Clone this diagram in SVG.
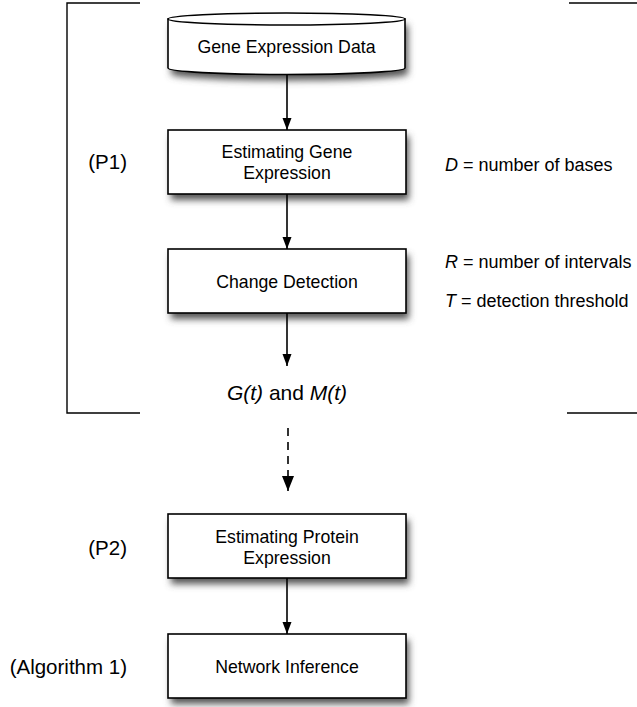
<svg xmlns="http://www.w3.org/2000/svg" width="637" height="707" viewBox="0 0 637 707">
<style>
  text { font-family: "Liberation Sans", Arial, Helvetica, sans-serif; fill: #000; }
  .box { fill: #fff; stroke: #000; stroke-width: 1.6; }
  .shd { fill: #555; stroke: none; filter: url(#blur); }
  .boxtxt { font-size: 17.7px; text-anchor: middle; }
  .side { font-size: 20.5px; text-anchor: end; }
  .param { font-size: 18px; }
  .bracket { fill: none; stroke: #000; stroke-width: 1.4; }
  .conn { fill: none; stroke: #000; stroke-width: 1.6; }
  .it { font-style: italic; }
</style>
<defs>
  <filter id="blur" x="-20%" y="-40%" width="140%" height="180%">
    <feGaussianBlur stdDeviation="3.5"/>
  </filter>
  <marker id="arrow" markerUnits="userSpaceOnUse" markerWidth="12" markerHeight="10" refX="12" refY="5" orient="auto">
    <path d="M0,0.5 L12,5 L0,9.5 z" fill="#000"/>
  </marker>
  <marker id="arrowBig" markerUnits="userSpaceOnUse" markerWidth="15" markerHeight="12" refX="15" refY="6" orient="auto">
    <path d="M0,0 L15,6 L0,12 z" fill="#000"/>
  </marker>
</defs>

<g id="bracket-left">
  <polyline class="bracket" points="140,3 67,3 67,413 140,413"/>
</g>
<g id="bracket-right">
  <line class="bracket" x1="569" y1="3" x2="637" y2="3"/>
  <line class="bracket" x1="567" y1="413" x2="637" y2="413"/>
</g>

<g id="node-data">
  <path class="shd" d="M171,25 L171,74 A118.5,6.5 0 0 0 408,74 L408,25 z"/>
  <path class="box" d="M168,19 L168,68 A118.5,6.5 0 0 0 405,68 L405,19 z"/>
  <ellipse class="box" cx="286.5" cy="19" rx="118.5" ry="6"/>
  <text class="boxtxt" x="286.5" y="53">Gene Expression Data</text>
</g>

<g id="node-estimating-gene">
  <rect class="shd" x="171" y="136" width="238" height="64"/>
  <rect class="box" x="168" y="130" width="238" height="64"/>
  <text class="boxtxt" x="287" y="158">Estimating Gene</text>
  <text class="boxtxt" x="287" y="179">Expression</text>
</g>

<g id="node-change-detection">
  <rect class="shd" x="171" y="255" width="238" height="64"/>
  <rect class="box" x="168" y="249" width="238" height="64"/>
  <text class="boxtxt" x="287" y="288">Change Detection</text>
</g>

<g id="node-gm">
  <text x="287" y="400" style="font-size:21px" text-anchor="middle"><tspan class="it">G(t)</tspan> and <tspan class="it">M(t)</tspan></text>
</g>

<g id="node-estimating-protein">
  <rect class="shd" x="171" y="520" width="238" height="64"/>
  <rect class="box" x="168" y="514" width="238" height="64"/>
  <text class="boxtxt" x="287" y="543">Estimating Protein</text>
  <text class="boxtxt" x="287" y="564">Expression</text>
</g>

<g id="node-network-inference">
  <rect class="shd" x="171" y="640" width="238" height="64"/>
  <rect class="box" x="168" y="634" width="238" height="64"/>
  <text class="boxtxt" x="287" y="673">Network Inference</text>
</g>

<g id="connectors">
  <line class="conn" x1="287" y1="74" x2="287" y2="130" marker-end="url(#arrow)"/>
  <line class="conn" x1="287" y1="194" x2="287" y2="249" marker-end="url(#arrow)"/>
  <line class="conn" x1="287" y1="313" x2="287" y2="366" marker-end="url(#arrow)"/>
  <line class="conn" x1="288" y1="428" x2="288" y2="491" stroke-dasharray="8,6" marker-end="url(#arrowBig)"/>
  <line class="conn" x1="287" y1="578" x2="287" y2="634" marker-end="url(#arrow)"/>
</g>

<g id="labels-left">
  <text class="side" x="127" y="169">(P1)</text>
  <text class="side" x="127" y="555">(P2)</text>
  <text class="side" x="127" y="674">(Algorithm 1)</text>
</g>

<g id="labels-params">
  <text class="param" x="445" y="171"><tspan class="it">D</tspan> = number of bases</text>
  <text class="param" x="445" y="268"><tspan class="it">R</tspan> = number of intervals</text>
  <text class="param" x="445" y="307"><tspan class="it">T</tspan> = detection threshold</text>
</g>
</svg>
